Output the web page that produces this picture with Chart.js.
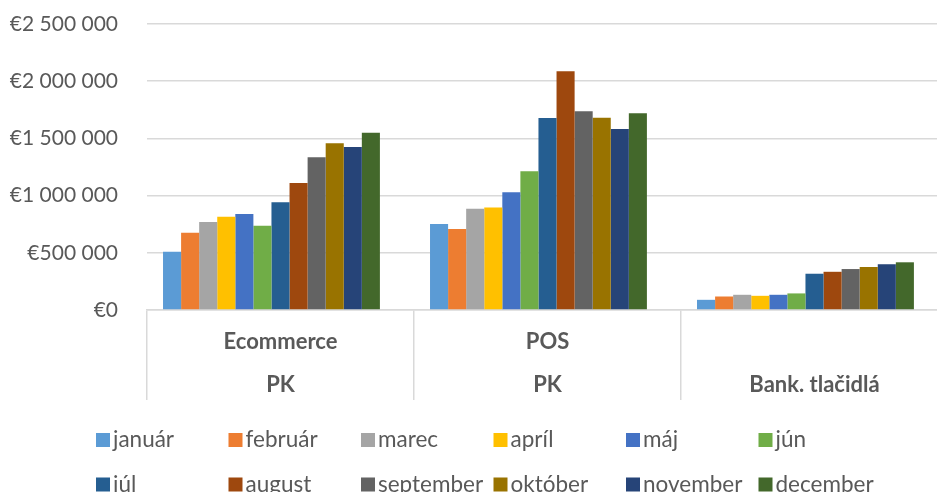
<!DOCTYPE html>
<html>
<head>
<meta charset="utf-8">
<script src="https://cdn.jsdelivr.net/npm/chart.js@4.4.1/dist/chart.umd.min.js"></script>
<style>
  html, body { margin: 0; padding: 0; background: #fff; overflow: hidden; }
  #wrap { width: 950px; height: 492px; }
</style>
</head>
<body>
<div id="wrap"><canvas id="chart" width="950" height="492"></canvas></div>
<script>
// categories (two label rows) and monthly series
const categories = [['Ecommerce', 'PK'], ['POS', 'PK'], ['', 'Bank. tlačidlá']];
const months = ['január', 'február', 'marec', 'apríl', 'máj', 'jún',
                'júl', 'august', 'september', 'október', 'november', 'december'];
const colors = ['#5B9BD5', '#ED7D31', '#A5A5A5', '#FFC000', '#4472C4', '#70AD47',
                '#255E91', '#9E480E', '#636363', '#997300', '#264478', '#43682B'];

const ecommerce = [510000, 676000, 769000, 816000, 839000, 737000, 941000, 1110000, 1335000, 1457000, 1425000, 1550000];
const pos = [752000, 708000, 886000, 895000, 1029000, 1212000, 1678000, 2086000, 1737000, 1681000, 1582000, 1719000];
const bank = [89000, 118000, 133000, 124000, 133000, 145000, 317000, 334000, 358000, 376000, 400000, 417000];

const yTicks = [0, 500000, 1000000, 1500000, 2000000, 2500000];

const textColor = '#595959';
const gridColor = '#d9d9d9';
const fontFamily = 'Lato, "DejaVu Sans", sans-serif';

function euro(v) {
    return '€' + String(v).replace(/\B(?=(\d{3})+(?!\d))/g, ' ');
}

// legend laid out on a fixed grid, 6 columns x 2 rows
const gridLegend = {
    id: 'gridLegend',
    afterDraw(chart) {
        const ctx = chart.ctx;
        ctx.save();
        ctx.font = '22.5px ' + fontFamily;
        ctx.textBaseline = 'middle';
        ctx.textAlign = 'left';
        months.forEach((m, i) => {
            const col = i % 6;
            const row = Math.floor(i / 6);
            const x = 96 + col * 132.5;
            const y = 440 + row * 44.5;
            ctx.fillStyle = colors[i];
            ctx.fillRect(x, y - 7, 14, 14);
            ctx.fillStyle = textColor;
            ctx.fillText(m, x + 17, y);
        });
        ctx.restore();
    }
};

const datasets = months.map((m, i) => ({
    label: m,
    data: [ecommerce[i], pos[i], bank[i]],
    backgroundColor: colors[i],
    borderWidth: 0
}));
// empty 13th slot: the source chart leaves one blank bar position after december
datasets.push({ label: '', data: [null, null, null], backgroundColor: 'rgba(0,0,0,0)' });

new Chart(document.getElementById('chart'), {
    type: 'bar',
    data: { labels: categories, datasets: datasets },
    plugins: [gridLegend],
    options: {
        responsive: false,
        animation: false,
        layout: { padding: { top: 24, right: 2, bottom: 85.5, left: 0 } },
        datasets: { bar: { categoryPercentage: 0.88, barPercentage: 1.0 } },
        plugins: {
            legend: { display: false },
            tooltip: { enabled: false }
        },
        scales: {
            x: {
                grid: {
                    offset: true,
                    drawOnChartArea: false,
                    tickLength: 90,
                    color: gridColor,
                    lineWidth: 1.5
                },
                border: { color: gridColor, width: 1.5 },
                ticks: {
                    color: textColor,
                    padding: -79.5,
                    font: { family: fontFamily, size: 22, weight: 'bold', lineHeight: '43px' }
                },
                afterFit(s) { s.height = 96.5; }
            },
            y: {
                min: 0,
                max: 2500000,
                afterBuildTicks(s) { s.ticks = yTicks.map(v => ({ value: v })); },
                grid: { color: gridColor, lineWidth: 1.5, drawTicks: true, tickLength: 26, tickColor: 'rgba(0,0,0,0)' },
                border: { display: false },
                ticks: {
                    color: textColor,
                    padding: 3,
                    font: { family: fontFamily, size: 21 },
                    callback: v => euro(v)
                },
                afterFit(s) { s.width = 147; }
            }
        }
    }
});
</script>
</body>
</html>
